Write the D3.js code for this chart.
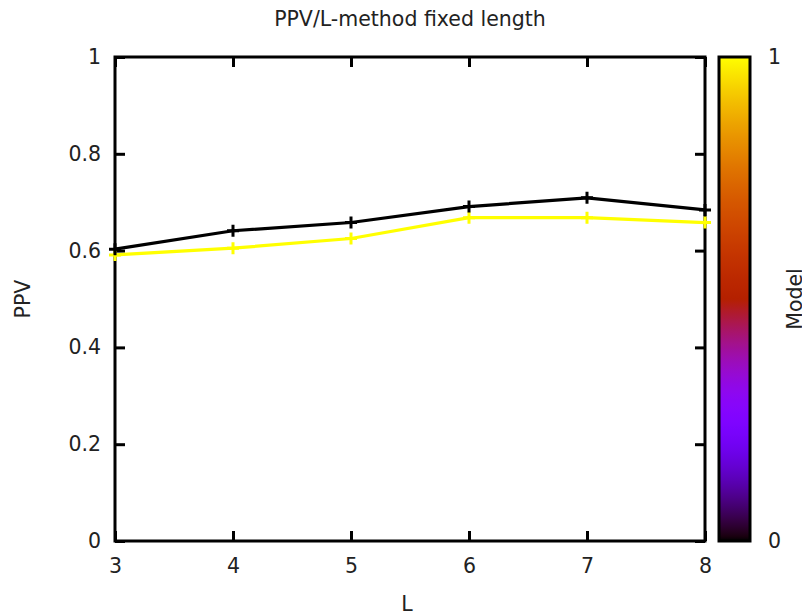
<!DOCTYPE html>
<html>
<head>
<meta charset="utf-8">
<script src="https://cdn.jsdelivr.net/npm/d3@7"></script>
<style>
  body { margin: 0; background: #fff; }
  text { font-family: "DejaVu Sans", sans-serif; fill: #222; }
</style>
</head>
<body>
<svg id="chart"></svg>
<script>
// data
const lengths = [3, 4, 5, 6, 7, 8]
const models = [0, 1]
const ppvModel0 = [0.603, 0.641, 0.658, 0.691, 0.709, 0.684]
const ppvModel1 = [0.591, 0.605, 0.625, 0.668, 0.668, 0.658]
const yTicks = [0, 0.2, 0.4, 0.6, 0.8, 1]
const cbTicks = [0, 1]

const W = 802, H = 614
const margin = {top: 57, bottom: 73, left: 115, right: 97}
const width = W - margin.left - margin.right
const height = H - margin.top - margin.bottom
const fs = '20.5px'

const svg = d3.select('#chart').attr('width', W).attr('height', H)

// gnuplot default palette (rgbformulae 7,5,15)
const palette = t => {
  const r = Math.sqrt(t), g = t * t * t, b = Math.max(0, Math.sin(2 * Math.PI * t))
  return d3.rgb(r * 255, g * 255, b * 255).formatHex()
}

const x = d3.scaleLinear().domain([3, 8]).range([0, width])
const y = d3.scaleLinear().domain([0, 1]).range([height, 0])
const cScale = d3.scaleLinear().domain([0, 1]).range([0, 1])

const g = svg.append('g').attr('transform', `translate(${margin.left},${margin.top})`)

// title
svg.append('text').attr('x', margin.left + width / 2 + 0).attr('y', 26)
  .attr('text-anchor', 'middle').style('font-size', fs).text('PPV/L-method fixed length')

// axes with inward ticks on all four sides
const tickLen = 10
g.append('g').attr('transform', `translate(0,${height})`)
  .call(d3.axisBottom(x).tickValues(lengths).tickSize(-tickLen).tickPadding(17).tickFormat(d3.format('d')))
g.append('g').call(d3.axisTop(x).tickValues(lengths).tickSize(-tickLen).tickFormat(''))
g.append('g').call(d3.axisLeft(y).tickValues(yTicks).tickSize(-tickLen).tickPadding(14).tickFormat(d => d === 0 || d === 1 ? d : d3.format('.1f')(d)))
g.append('g').attr('transform', `translate(${width},0)`)
  .call(d3.axisRight(y).tickValues(yTicks).tickSize(-tickLen).tickFormat(''))

g.selectAll('.domain').remove()
g.selectAll('.tick line').attr('stroke', '#000').attr('stroke-width', 3)
g.selectAll('.tick text').style('font-size', fs).attr('fill', '#222')

g.append('rect').attr('width', width).attr('height', height)
  .attr('fill', 'none').attr('stroke', '#000').attr('stroke-width', 3)

// series
const series = [
  {model: models[0], values: ppvModel0},
  {model: models[1], values: ppvModel1}
]
const line = d3.line().x((d, i) => x(lengths[i])).y(d => y(d))

// yellow first, black on top
series.slice().reverse().forEach(s => {
  const col = palette(cScale(s.model))
  g.append('path').datum(s.values).attr('d', line)
    .attr('fill', 'none').attr('stroke', col).attr('stroke-width', 3.2)
  g.selectAll(null).data(s.values).join('path')
    .attr('transform', (d, i) => `translate(${x(lengths[i])},${y(d)})`)
    .attr('d', 'M-6,0H6M0,-6V6')
    .attr('stroke', col).attr('stroke-width', 3)
})

// axis titles
svg.append('text').attr('transform', `translate(30,${margin.top + height / 2}) rotate(-90)`)
  .attr('text-anchor', 'middle').style('font-size', fs).text('PPV')
svg.append('text').attr('x', margin.left + width / 2 - 3).attr('y', 611)
  .attr('text-anchor', 'middle').style('font-size', fs).text('L')

// colour box
const cbX = 719, cbW = 31
const cbY = d3.scaleLinear().domain([0, 1]).range([margin.top + height, margin.top])
const grad = svg.append('defs').append('linearGradient').attr('id', 'pal')
  .attr('x1', 0).attr('y1', 1).attr('x2', 0).attr('y2', 0)
grad.selectAll('stop').data(d3.range(0, 1.0001, 0.01)).join('stop')
  .attr('offset', d => d).attr('stop-color', d => palette(d))
svg.append('rect').attr('x', cbX).attr('y', cbY(1)).attr('width', cbW).attr('height', cbY(0) - cbY(1))
  .attr('fill', 'url(#pal)').attr('stroke', '#000').attr('stroke-width', 3)
svg.selectAll('.cbtick').data(cbTicks).join('text').attr('class', 'cbtick')
  .attr('x', 768).attr('y', d => cbY(d)).attr('dy', '0.35em')
  .style('font-size', fs).text(d => d)
svg.append('text').attr('transform', `translate(802,${margin.top + height / 2}) rotate(-90)`)
  .attr('text-anchor', 'middle').style('font-size', fs).text('Model')
</script>
</body>
</html>
